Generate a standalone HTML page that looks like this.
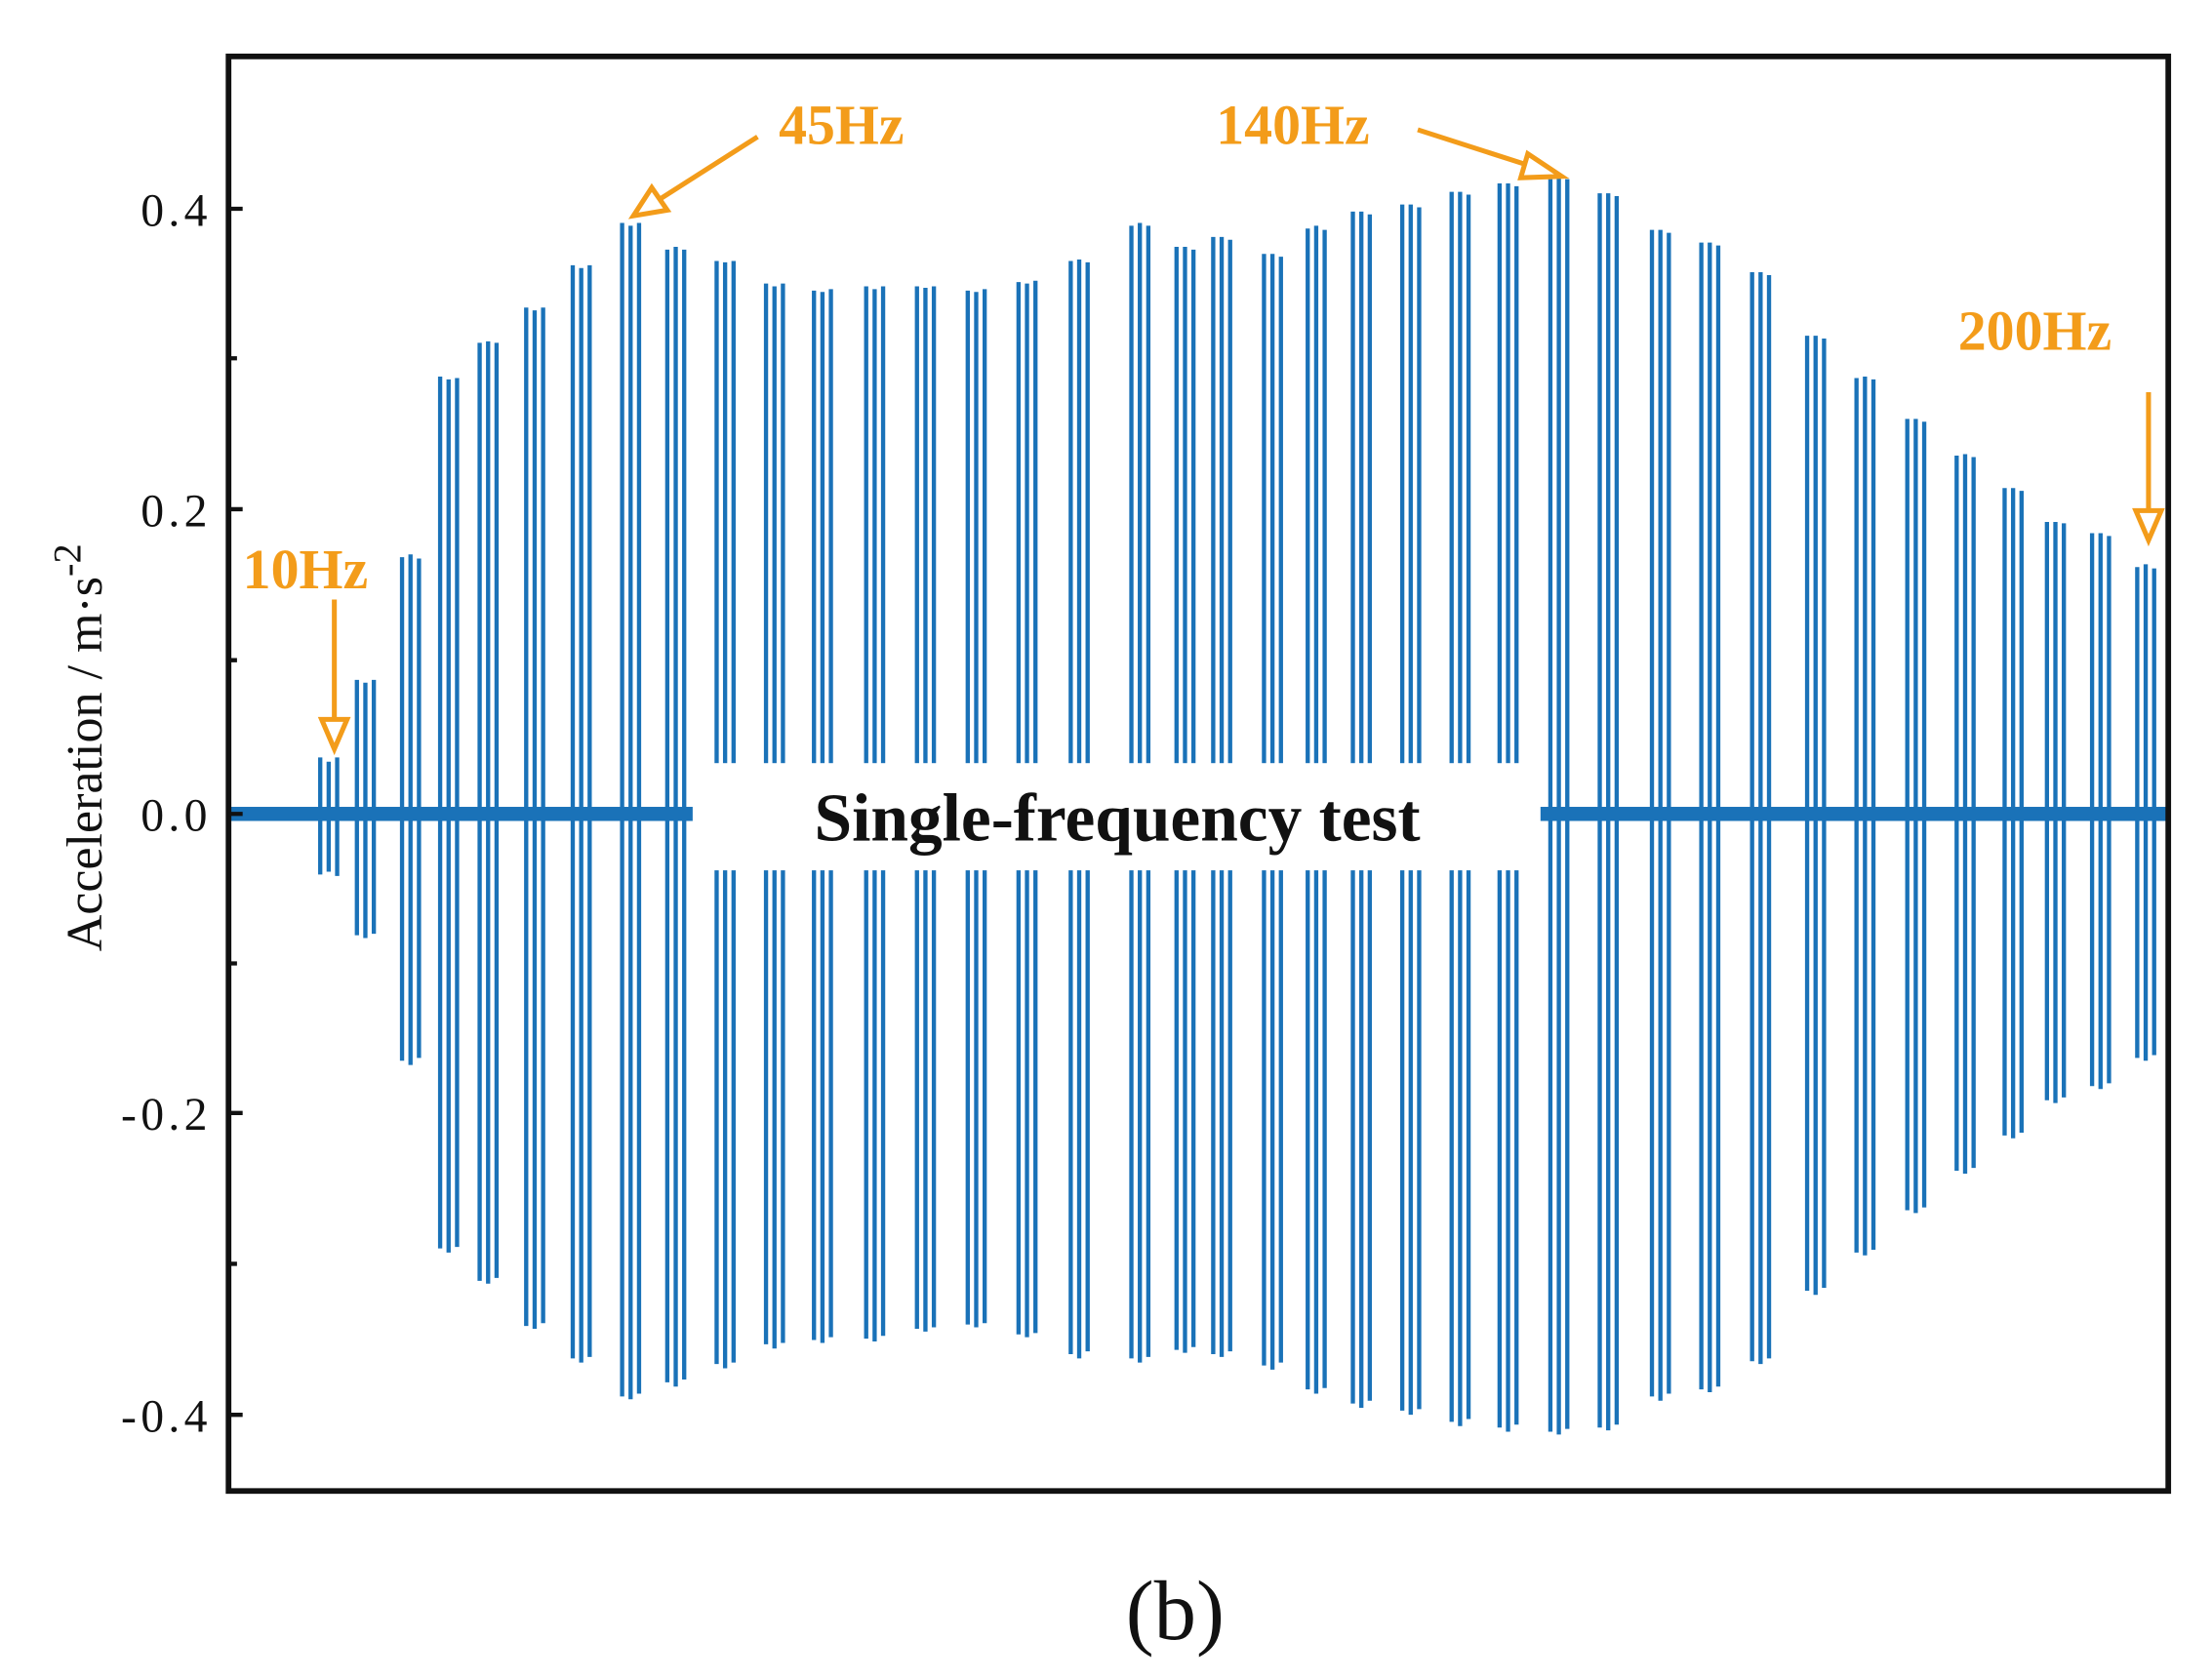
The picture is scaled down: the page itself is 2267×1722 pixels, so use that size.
<!DOCTYPE html>
<html><head><style>html,body{margin:0;padding:0;background:#fff;}svg{display:block}</style></head>
<body>
<svg width="2267" height="1722" viewBox="0 0 1568 1191" preserveAspectRatio="none" xmlns="http://www.w3.org/2000/svg">
<rect width="1568" height="1191" fill="#fff"/>
<g stroke="#1a72b8" stroke-width="3" fill="none">
<path d="M227 537V620M233 540V618M239 537V621"/>
<path d="M253 482V663M259 484V665M265 482V662"/>
<path d="M285 395V752M291 393V755M297 396V750"/>
<path d="M312 267V885M318 269V888M324 268V884"/>
<path d="M340 243V908M346 242V910M352 243V906"/>
<path d="M373 218V940M379 220V942M385 218V938"/>
<path d="M406 188V963M412 190V966M418 188V962"/>
<path d="M441 158V990M447 160V992M453 158V988"/>
<path d="M473 177V980M479 175V983M485 177V978"/>
<path d="M508 185V967M514 186V970M520 185V966"/>
<path d="M543 201V953M549 203V956M555 201V952"/>
<path d="M577 206V950M583 207V952M589 205V948"/>
<path d="M614 203V949M620 205V951M626 203V947"/>
<path d="M650 203V942M656 204V944M662 203V941"/>
<path d="M686 206V939M692 207V941M698 205V938"/>
<path d="M722 200V946M728 201V948M734 199V945"/>
<path d="M759 185V960M765 184V963M771 186V958"/>
<path d="M802 160V963M808 158V966M814 160V962"/>
<path d="M834 175V957M840 175V959M846 177V955"/>
<path d="M860 168V960M866 168V962M872 170V958"/>
<path d="M896 180V968M902 180V971M908 182V966"/>
<path d="M927 162V985M933 160V988M939 163V984"/>
<path d="M959 150V995M965 150V998M971 152V993"/>
<path d="M994 145V1000M1000 145V1003M1006 147V999"/>
<path d="M1029 136V1008M1035 136V1011M1041 138V1006"/>
<path d="M1063 130V1012M1069 130V1015M1075 132V1010"/>
<path d="M1099 127V1015M1105 125V1017M1111 127V1013"/>
<path d="M1134 137V1012M1140 137V1014M1146 139V1010"/>
<path d="M1171 163V990M1177 163V993M1183 165V988"/>
<path d="M1206 172V985M1212 172V987M1218 174V983"/>
<path d="M1242 193V965M1248 193V967M1254 195V963"/>
<path d="M1281 238V915M1287 238V918M1293 240V913"/>
<path d="M1316 268V888M1322 267V890M1328 269V886"/>
<path d="M1352 297V858M1358 297V860M1364 299V856"/>
<path d="M1387 323V830M1393 322V832M1399 324V828"/>
<path d="M1421 346V805M1427 346V807M1433 348V803"/>
<path d="M1451 370V780M1457 370V782M1463 371V778"/>
<path d="M1483 378V770M1489 378V772M1495 380V768"/>
<path d="M1515 402V750M1521 400V752M1527 403V748"/>
</g>
<rect x="163" y="572" width="1373" height="10" fill="#1a72b8"/>
<rect x="491" y="541" width="601" height="76" fill="#fff"/>
<text x="792" y="596" text-anchor="middle" font-family="Liberation Serif, serif" font-weight="bold" font-size="48" fill="#111">Single-frequency test</text>
<rect x="162" y="40" width="1375" height="1017" fill="none" stroke="#111" stroke-width="4"/>
<g stroke="#111" stroke-width="3">
<path d="M162 148H172M162 254H168M162 361H172M162 468H168M162 577H172M162 683H168M162 789H172M162 896H168M162 1003H172"/>
</g>
<g font-family="Liberation Serif, serif" font-size="33" fill="#111" text-anchor="end" letter-spacing="3">
<text x="150" y="160">0.4</text>
<text x="150" y="373">0.2</text>
<text x="150" y="589">0.0</text>
<text x="150" y="801">-0.2</text>
<text x="150" y="1015">-0.4</text>
</g>
<text transform="translate(72,530) rotate(-90)" text-anchor="middle" font-family="Liberation Serif, serif" font-size="36" fill="#111">Acceleration / m·s<tspan dy="-15" font-size="28">-2</tspan></text>
<text x="833" y="1162" text-anchor="middle" font-family="Liberation Serif, serif" font-size="60" fill="#111">(b)</text>
<g font-family="Liberation Serif, serif" font-weight="bold" font-size="40" fill="#f39c1a">
<text x="172" y="417">10Hz</text>
<text x="552" y="102">45Hz</text>
<text x="862" y="102">140Hz</text>
<text x="1388" y="248">200Hz</text>
</g>
<g stroke="#f39c1a" stroke-width="3.5" fill="#fff">
<path d="M237 425V510" fill="none"/>
<path d="M228 510L246 510L237 531Z"/>
<path d="M537 97L468 141" fill="none"/>
<path d="M462 133L473 149L449 153Z"/>
<path d="M1005 92L1086 118" fill="none"/>
<path d="M1083 109L1078 126L1107 125Z"/>
<path d="M1523 278V362" fill="none"/>
<path d="M1514 362L1532 362L1523 383Z"/>
</g>
</svg>
</body></html>
